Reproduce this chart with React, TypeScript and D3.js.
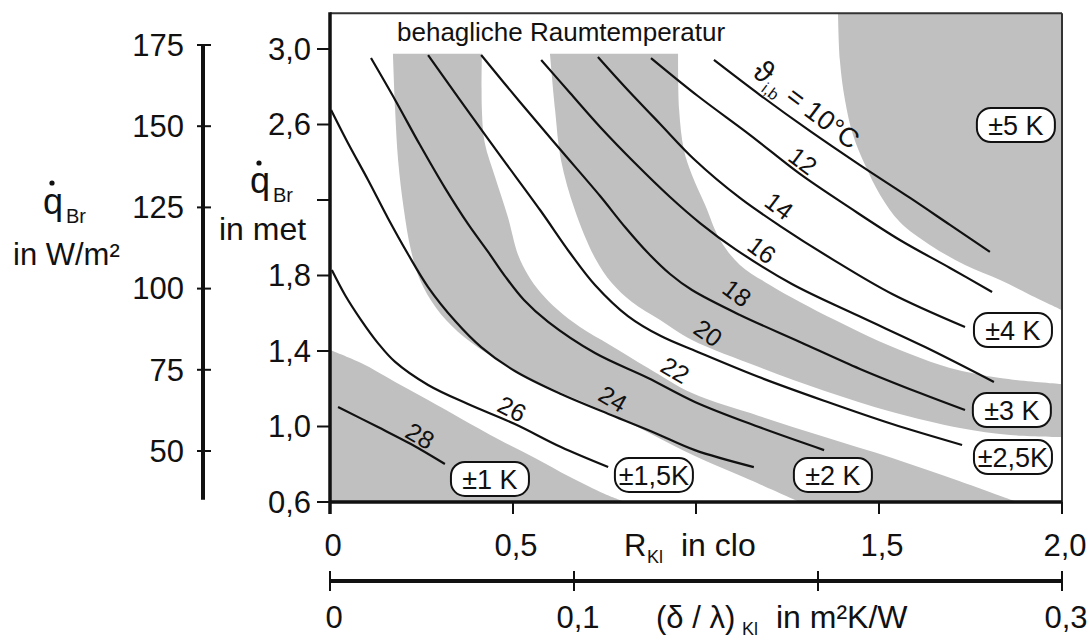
import React from "react";
import * as d3 from "d3";

const FONT = "'Liberation Sans', Arial, Helvetica, sans-serif";
const GRAY = "#c0c0c0";
const INK = "#111";

// ---------- axis ticks ----------
const metTicks = [0.6, 1.0, 1.4, 1.8, 2.2, 2.6, 3.0];
const metTickLabels = ["0,6", "1,0", "1,4", "1,8", "", "2,6", "3,0"];
const wTicks = [50, 75, 100, 125, 150, 175];
const wTickLabels = ["50", "75", "100", "125", "150", "175"];
const cloTicks = [0, 0.5, 1.0, 1.5, 2.0];
const cloTickLabels = ["0", "0,5", "", "1,5", "2,0"];
const resTicks = [0, 0.1, 0.2, 0.3];
const resTickLabels = ["0", "0,1", "", "0,3"];

// ---------- comfort-temperature curves, points [clo, met] ----------
type P = [number, number];
const curve10: P[] = [[1.049, 2.942], [1.175, 2.756], [1.311, 2.566], [1.448, 2.385], [1.585, 2.211], [1.694, 2.068], [1.803, 1.925]];
const curve12: P[] = [[0.877, 2.952], [1.005, 2.751], [1.148, 2.544], [1.284, 2.338], [1.421, 2.158], [1.557, 1.988], [1.694, 1.84], [1.809, 1.713]];
const curve14: P[] = [[0.732, 2.958], [0.806, 2.799], [0.902, 2.603], [0.997, 2.412], [1.12, 2.211], [1.23, 2.062], [1.372, 1.887], [1.536, 1.702], [1.735, 1.527]];
const curve16: P[] = [[0.577, 2.942], [0.656, 2.767], [0.738, 2.587], [0.833, 2.396], [0.929, 2.216], [1.011, 2.078], [1.107, 1.94], [1.262, 1.755], [1.445, 1.585], [1.626, 1.421], [1.814, 1.236]];
const curve18: P[] = [[0.413, 2.968], [0.519, 2.719], [0.628, 2.47], [0.738, 2.221], [0.806, 2.057], [0.869, 1.919], [0.929, 1.808], [0.989, 1.723], [1.12, 1.591], [1.284, 1.448], [1.448, 1.305], [1.612, 1.177], [1.735, 1.087]];
const curve20: P[] = [[0.268, 2.968], [0.355, 2.73], [0.464, 2.438], [0.574, 2.147], [0.658, 1.914], [0.724, 1.75], [0.814, 1.585], [0.904, 1.479], [1.005, 1.395], [1.172, 1.262], [1.352, 1.135], [1.536, 1.013], [1.727, 0.902]];
const curve22: P[] = [[0.112, 2.952], [0.178, 2.73], [0.246, 2.491], [0.314, 2.264], [0.377, 2.073], [0.432, 1.925], [0.478, 1.797], [0.53, 1.67], [0.596, 1.554], [0.724, 1.389], [0.869, 1.257], [0.997, 1.13], [1.172, 0.997], [1.35, 0.875]];
const curve24: P[] = [[0.003, 2.677], [0.049, 2.502], [0.104, 2.306], [0.158, 2.105], [0.213, 1.914], [0.268, 1.739], [0.342, 1.559], [0.413, 1.421], [0.505, 1.294], [0.631, 1.172], [0.768, 1.061], [0.888, 0.966], [0.997, 0.875], [1.158, 0.785]];
const curve26: P[] = [[0.005, 1.829], [0.041, 1.697], [0.085, 1.564], [0.131, 1.442], [0.178, 1.342], [0.268, 1.22], [0.377, 1.119], [0.505, 1.013], [0.631, 0.891], [0.76, 0.785]];
const curve28: P[] = [[0.022, 1.103], [0.131, 0.997], [0.221, 0.907], [0.314, 0.801]];
const curves = [curve10, curve12, curve14, curve16, curve18, curve20, curve22, curve24, curve26, curve28];

// ---------- tolerance band edges [clo, met] ----------
const edgeA: P[] = [[0, 1.405], [0.085, 1.336], [0.178, 1.236], [0.268, 1.14], [0.355, 1.045], [0.464, 0.928], [0.56, 0.833], [0.656, 0.732], [0.751, 0.642], [0.806, 0.6]];
const edgeBlow: P[] = [[0.172, 2.975], [0.178, 2.677], [0.186, 2.412], [0.202, 2.147], [0.221, 1.935], [0.246, 1.776], [0.29, 1.628], [0.35, 1.501], [0.423, 1.395], [0.514, 1.289], [0.615, 1.193], [0.71, 1.114], [0.792, 1.045], [0.888, 0.95], [0.997, 0.844], [1.148, 0.717], [1.284, 0.6]];
const edgeBhigh: P[] = [[0.415, 2.975], [0.415, 2.677], [0.423, 2.502], [0.451, 2.322], [0.486, 2.11], [0.514, 1.909], [0.541, 1.803], [0.574, 1.713], [0.623, 1.617], [0.683, 1.527], [0.765, 1.432], [0.869, 1.31], [0.989, 1.177], [1.172, 1.056], [1.352, 0.944], [1.536, 0.833], [1.719, 0.711], [1.877, 0.6]];
const edgeClow: P[] = [[0.601, 2.975], [0.615, 2.677], [0.631, 2.412], [0.669, 2.147], [0.724, 1.893], [0.77, 1.76], [0.825, 1.66], [0.902, 1.564], [0.989, 1.458], [1.172, 1.315], [1.352, 1.188], [1.536, 1.077], [1.721, 0.992], [1.858, 0.955], [2.0, 0.944]];
const edgeChigh: P[] = [[0.951, 2.975], [0.954, 2.677], [0.967, 2.465], [0.989, 2.332], [1.025, 2.174], [1.066, 1.988], [1.12, 1.856], [1.202, 1.75], [1.284, 1.66], [1.38, 1.564], [1.475, 1.474], [1.585, 1.384], [1.694, 1.31], [1.831, 1.257], [2.0, 1.225]];
const edgeD: P[] = [[1.388, 3.19], [1.393, 2.942], [1.407, 2.73], [1.429, 2.544], [1.462, 2.385], [1.503, 2.227], [1.557, 2.083], [1.639, 1.962], [1.735, 1.856], [1.831, 1.776], [1.913, 1.697], [2.0, 1.617]];

// ---------- band labels ----------
const bandLabels = ["±1 K", "±1,5K", "±2 K", "±2,5K", "±3 K", "±4 K", "±5 K"];
const bandLabelClo = [0.437, 0.885, 1.374, 1.866, 1.863, 1.866, 1.874];
const bandLabelMet = [0.722, 0.743, 0.743, 0.838, 1.087, 1.511, 2.597];

// ---------- curve labels ----------
const curveLabels = ["12", "14", "16", "18", "20", "22", "24", "26", "28"];
const curveLabelClo = [1.292, 1.227, 1.18, 1.112, 1.033, 0.943, 0.773, 0.497, 0.246];
const curveLabelMet = [2.407, 2.168, 1.935, 1.707, 1.495, 1.299, 1.146, 1.093, 0.95];
const curveLabelAngle = [37, 37, 37, 37, 35, 30, 30, 27, 30];
const firstLabelPos: P = [1.150, 2.862];

const MET_TOP = 3.19;

export default function App() {
  const x = d3.scaleLinear().domain([0, 2]).range([330, 1062]);
  const y = d3.scaleLinear().domain([0.6, 3.0]).range([502, 49]);
  const yW = d3.scaleLinear().domain([50, 175]).range([451, 45]);
  const xR = d3.scaleLinear().domain([0, 0.3]).range([330, 1062]);

  const line = d3
    .line<P>()
    .x((d) => x(d[0]))
    .y((d) => y(d[1]))
    .curve(d3.curveCatmullRom.alpha(0.5));

  const join = (a: P[], b: P[]) =>
    (line(a) as string) + (line(b.slice().reverse()) as string).replace(/^M/, "L") + "Z";

  const pathA = (line(edgeA) as string) + `L${x(0)},${y(0.6)}Z`;
  const pathB = join(edgeBlow, edgeBhigh);
  const pathC = join(edgeClow, edgeChigh);
  const pathD = (line(edgeD) as string) + `L${x(2)},${y(MET_TOP)}Z`;

  const x0 = x(0), x2 = x(2), yb = y(0.6), yt = y(MET_TOP);

  return (
    <svg
      width={1091}
      height={638}
      style={{ position: "absolute", left: 0, top: 0, background: "#fff" }}
      fontFamily={FONT}
    >
      <defs>
        <clipPath id="plotClip">
          <rect x={x0} y={yt} width={x2 - x0} height={yb - yt} />
        </clipPath>
      </defs>
      <rect x={0} y={0} width={1091} height={638} fill="#fff" />

      {/* bands */}
      <g clipPath="url(#plotClip)" fill={GRAY} stroke="none">
        <path d={pathA} />
        <path d={pathB} />
        <path d={pathC} />
        <path d={pathD} />
      </g>

      {/* curves */}
      <g clipPath="url(#plotClip)" fill="none" stroke={INK} strokeWidth={2.2}>
        {curves.map((c, i) => (
          <path key={i} d={line(c) as string} />
        ))}
      </g>

      {/* title inside plot */}
      <text x={397} y={41} fontSize={26} fill={INK}>
        behagliche Raumtemperatur
      </text>

      {/* curve labels */}
      <text
        transform={`translate(${x(firstLabelPos[0])},${y(firstLabelPos[1])}) rotate(37)`}
        fontSize={27}
        fill={INK}
      >
        <tspan fontSize={31}>ϑ</tspan>
        <tspan dy={7} fontSize={16}>i,b</tspan>
        <tspan dy={-7}> = 10°C</tspan>
      </text>
      {curveLabels.map((t, i) => (
        <text
          key={t}
          transform={`translate(${x(curveLabelClo[i])},${y(curveLabelMet[i])}) rotate(${curveLabelAngle[i]})`}
          fontSize={25}
          textAnchor="middle"
          dy="0.35em"
          fill={INK}
        >
          {t}
        </text>
      ))}

      {/* band labels */}
      {bandLabels.map((t, i) => {
        const cx = x(bandLabelClo[i]);
        const cy = y(bandLabelMet[i]);
        return (
          <g key={t}>
            <rect x={cx - 39} y={cy - 17} width={78} height={34} rx={14} fill="#fff" stroke={INK} strokeWidth={2} />
            <text x={cx} y={cy} dy="0.36em" textAnchor="middle" fontSize={27} fill={INK}>
              {t}
            </text>
          </g>
        );
      })}

      {/* frame */}
      <line x1={x0} y1={yt} x2={x2} y2={yt} stroke="#333" strokeWidth={2} />
      <line x1={x2} y1={yt} x2={x2} y2={yb + 12} stroke="#333" strokeWidth={2} />
      <line x1={x0} y1={yt - 1} x2={x0} y2={yb + 12} stroke={INK} strokeWidth={3.5} />
      <line x1={x0} y1={yb} x2={x2} y2={yb} stroke={INK} strokeWidth={3.5} />

      {/* met axis ticks */}
      {metTicks.map((v, i) => (
        <g key={v}>
          <line x1={x0 - 13} x2={x0} y1={y(v)} y2={y(v)} stroke={INK} strokeWidth={2} />
          <text x={311} y={y(v)} dy="0.35em" textAnchor="end" fontSize={31} fill={INK}>
            {metTickLabels[i]}
          </text>
        </g>
      ))}

      {/* clo axis ticks */}
      {cloTicks.map((v, i) => (
        <g key={v}>
          <line x1={x(v)} x2={x(v)} y1={yb} y2={yb + 12} stroke={INK} strokeWidth={2} />
          <text x={x(v) + 3} y={556} textAnchor="middle" fontSize={31} fill={INK}>
            {cloTickLabels[i]}
          </text>
        </g>
      ))}
      <text x={624} y={556} fontSize={31} fill={INK}>R</text>
      <text x={647} y={563} fontSize={18} fill={INK}>Kl</text>
      <text x={681} y={556} fontSize={32} fill={INK}>in clo</text>

      {/* W/m2 axis */}
      <line x1={203} x2={203} y1={yW(175)} y2={yW(35)} stroke={INK} strokeWidth={4} />
      {wTicks.map((v, i) => (
        <g key={v}>
          <line x1={197} x2={211} y1={yW(v)} y2={yW(v)} stroke={INK} strokeWidth={2} />
          <text x={184} y={yW(v)} dy="0.35em" textAnchor="end" fontSize={31} fill={INK}>
            {wTickLabels[i]}
          </text>
        </g>
      ))}

      {/* thermal resistance axis */}
      <line x1={xR(0)} x2={xR(0.3)} y1={581} y2={581} stroke={INK} strokeWidth={4} />
      {resTicks.map((v, i) => (
        <g key={v}>
          <line x1={xR(v)} x2={xR(v)} y1={571} y2={591} stroke={INK} strokeWidth={2} />
          <text x={xR(v) + 4} y={628} textAnchor="middle" fontSize={31} fill={INK}>
            {resTickLabels[i]}
          </text>
        </g>
      ))}
      <text x={656} y={628} fontSize={31} fill={INK}>(δ / λ)</text>
      <text x={742} y={635} fontSize={18} fill={INK}>Kl</text>
      <text x={776} y={628} fontSize={32} fill={INK}>in m²K/W</text>

      {/* left titles */}
      <text x={43} y={214} fontSize={36} fill={INK}>q</text>
      <circle cx={52} cy={183} r={2.6} fill={INK} />
      <text x={66} y={223} fontSize={20} fill={INK}>Br</text>
      <text x={13} y={265} fontSize={31} fill={INK}>in W/m²</text>

      <text x={250} y={193} fontSize={36} fill={INK}>q</text>
      <circle cx={259} cy={163} r={2.6} fill={INK} />
      <text x={273} y={202} fontSize={20} fill={INK}>Br</text>
      <text x={219} y={240} fontSize={32} fill={INK}>in met</text>
    </svg>
  );
}
